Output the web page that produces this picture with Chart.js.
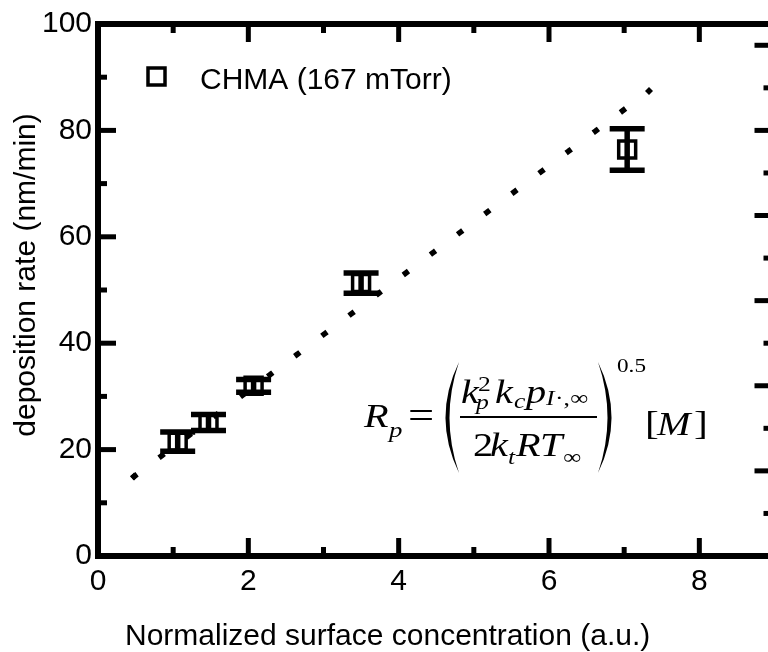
<!DOCTYPE html>
<html>
<head>
<meta charset="utf-8">
<script src="https://cdn.jsdelivr.net/npm/chart.js@4.4.0/dist/chart.umd.min.js"></script>
<style>
  html, body { margin: 0; padding: 0; background: #fff; overflow: hidden; }
  #wrap { width: 768px; height: 652px; overflow: hidden; position: relative; }
  canvas { position: absolute; left: 0; top: 0; }
</style>
</head>
<body>
<div id="wrap"><canvas id="chart" width="790" height="652"></canvas></div>
<script>
// ===== data =====
const seriesLabel = 'CHMA (167 mTorr)';
const concX = [1.06, 1.47, 2.07, 3.50, 7.04];     // normalized surface concentration
const rateY = [21.5, 25.1, 32.0, 51.3, 76.4];     // deposition rate (nm/min)
const rateErr = [1.8, 1.5, 1.2, 1.9, 3.9];

// model line (dotted)
const fitX = [0.48, 7.33];
const fitY = [14.95, 87.4];

// axes
const xTicks = [0, 2, 4, 6, 8];
const xMinor = [1, 3, 5, 7, 9];
const yTicks = [0, 20, 40, 60, 80, 100];
const yMinor = [10, 30, 50, 70, 90];
const rightTicks = [0, 4, 8, 12, 16, 20, 24];
const rightMinor = [2, 6, 10, 14, 18, 22];

const SANS = '"Liberation Sans", Arial, sans-serif';
const SERIF = '"Liberation Serif", "Times New Roman", serif';

Chart.defaults.font.family = SANS;
Chart.defaults.color = '#000';

// ----- helpers -----
function line(ctx, x1, y1, x2, y2) {
    ctx.beginPath();
    ctx.moveTo(x1, y1);
    ctx.lineTo(x2, y2);
    ctx.stroke();
}

// stretched text for the formula
function mathText(ctx, str, x, y, size, italic) {
    ctx.save();
    ctx.translate(x, y);
    ctx.scale(1.22, 1);
    ctx.font = (italic ? 'italic ' : '') + size + 'px ' + SERIF;
    ctx.fillText(str, 0, 0);
    ctx.restore();
}

function paren(ctx, xEnd, xOuter, xInner, yTop, yBot) {
    const mid = (yTop + yBot) / 2;
    ctx.beginPath();
    ctx.moveTo(xEnd, yTop);
    ctx.quadraticCurveTo(xOuter, mid, xEnd, yBot);
    ctx.quadraticCurveTo(xInner, mid, xEnd, yTop);
    ctx.fill();
}

function drawFormula(ctx) {
    ctx.save();
    ctx.fillStyle = '#000';
    ctx.strokeStyle = '#000';
    ctx.textBaseline = 'alphabetic';
    ctx.textAlign = 'left';

    mathText(ctx, 'R', 364, 427, 33, true);
    mathText(ctx, 'p', 389, 437, 22, true);
    mathText(ctx, '=', 408, 428, 38, false);

    paren(ctx, 459, 432, 440, 362, 473);
    paren(ctx, 598, 625, 617, 362, 473);

    // numerator
    mathText(ctx, 'k', 461, 403, 33, true);
    mathText(ctx, '2', 478, 391, 21, false);
    mathText(ctx, 'p', 476, 409, 21, true);
    mathText(ctx, 'k', 495, 403, 33, true);
    mathText(ctx, 'c', 514, 408, 21, true);
    mathText(ctx, 'p', 526, 403, 33, true);
    mathText(ctx, 'I', 546, 405, 21, true);
    mathText(ctx, '\u00b7,\u221e', 555, 405, 21, false);

    // fraction bar
    ctx.lineWidth = 2;
    line(ctx, 460, 417, 597, 417);

    // denominator
    mathText(ctx, '2', 473, 456, 33, false);
    mathText(ctx, 'k', 490, 456, 33, true);
    mathText(ctx, 't', 508, 464, 21, true);
    mathText(ctx, 'R', 516, 456, 33, true);
    mathText(ctx, 'T', 540, 456, 33, true);
    mathText(ctx, '\u221e', 563, 464, 21, false);

    mathText(ctx, '0.5', 617, 372, 19, false);

    mathText(ctx, '[', 645, 434, 34, false);
    mathText(ctx, 'M', 657, 435, 33, true);
    mathText(ctx, ']', 694, 434, 34, false);
    ctx.restore();
}

// ----- plugin: error bars, frame with inward ticks, legend, titles, formula -----
const framePlugin = {
    id: 'frame',
    afterDatasetsDraw(chart) {
        const { ctx, scales: { x, y } } = chart;
        ctx.save();
        ctx.strokeStyle = '#000';
        ctx.lineWidth = 5.5;
        concX.forEach((cx, i) => {
            const px = x.getPixelForValue(cx);
            const top = y.getPixelForValue(rateY[i] + rateErr[i]);
            const bot = y.getPixelForValue(rateY[i] - rateErr[i]);
            line(ctx, px, top, px, bot);
            line(ctx, px - 17.5, top, px + 17.5, top);
            line(ctx, px - 17.5, bot, px + 17.5, bot);
        });
        ctx.restore();
    },
    afterDraw(chart) {
        const { ctx, chartArea: a, scales: { x, y, y2 } } = chart;
        ctx.save();
        ctx.strokeStyle = '#000';
        ctx.fillStyle = '#000';

        // ticks
        ctx.lineWidth = 5;
        const MAJ = 18, MIN = 9;
        xTicks.forEach(v => {
            const p = x.getPixelForValue(v);
            line(ctx, p, a.bottom, p, a.bottom - MAJ);
            line(ctx, p, a.top, p, a.top + MAJ);
        });
        xMinor.forEach(v => {
            const p = x.getPixelForValue(v);
            line(ctx, p, a.bottom, p, a.bottom - MIN);
            line(ctx, p, a.top, p, a.top + MIN);
        });
        yTicks.forEach(v => {
            const p = y.getPixelForValue(v);
            line(ctx, a.left, p, a.left + MAJ, p);
        });
        yMinor.forEach(v => {
            const p = y.getPixelForValue(v);
            line(ctx, a.left, p, a.left + MIN, p);
        });
        rightTicks.forEach(v => {
            const p = y2.getPixelForValue(v);
            line(ctx, a.right, p, a.right - MAJ - 2, p);
        });
        rightMinor.forEach(v => {
            const p = y2.getPixelForValue(v);
            line(ctx, a.right, p, a.right - MIN - 2, p);
        });

        // frame
        ctx.lineWidth = 6;
        ctx.strokeRect(a.left, a.top, a.right - a.left, a.bottom - a.top);

        // legend
        ctx.lineWidth = 3.5;
        ctx.strokeRect(148, 68, 17, 17);
        ctx.font = '30px ' + SANS;
        ctx.textAlign = 'left';
        ctx.textBaseline = 'alphabetic';
        ctx.fillText(seriesLabel, 200, 89);

        // axis titles
        ctx.fillText('Normalized surface concentration (a.u.)', 125, 645);
        ctx.save();
        ctx.translate(35, 275);
        ctx.rotate(-Math.PI / 2);
        ctx.textAlign = 'center';
        ctx.fillText('deposition rate (nm/min)', 0, 0);
        ctx.restore();

        ctx.restore();
        drawFormula(ctx);
    }
};

new Chart(document.getElementById('chart'), {
    type: 'scatter',
    data: {
        datasets: [{
            label: seriesLabel,
            data: concX.map((v, i) => ({ x: v, y: rateY[i] })),
            pointStyle: 'rect',
            pointRadius: 12,
            pointBorderWidth: 3.5,
            pointBorderColor: '#000',
            pointBackgroundColor: 'rgba(0,0,0,0)',
            order: 1
        }, {
            label: 'model',
            data: fitX.map((v, i) => ({ x: v, y: fitY[i] })),
            showLine: true,
            borderColor: '#000',
            borderWidth: 5.5,
            borderDash: [1, 32.9],
            borderCapStyle: 'square',
            pointStyle: 'rectRot',
            pointRadius: 4,
            pointBorderWidth: 0,
            pointBackgroundColor: '#000',
            order: 2
        }]
    },
    options: {
        responsive: false,
        animation: false,
        devicePixelRatio: 1,
        layout: { padding: { top: 23, left: 0, right: 0, bottom: 0 } },
        plugins: {
            legend: { display: false },
            tooltip: { enabled: false }
        },
        scales: {
            x: {
                type: 'linear',
                min: 0,
                max: 9,
                border: { display: false },
                grid: { display: false, drawTicks: false },
                afterBuildTicks: (s) => { s.ticks = xTicks.map(v => ({ value: v })); },
                afterFit: (s) => { s.height = 96; },
                ticks: { font: { size: 30 }, padding: 8, maxRotation: 0 }
            },
            y: {
                type: 'linear',
                min: 0,
                max: 100,
                border: { display: false },
                grid: { display: false, drawTicks: false },
                afterBuildTicks: (s) => { s.ticks = yTicks.map(v => ({ value: v })); },
                afterFit: (s) => { s.width = 98; },
                ticks: { font: { size: 30 }, padding: 6 }
            },
            y2: {
                type: 'linear',
                position: 'right',
                min: 0,
                max: 25,
                border: { display: false },
                grid: { display: false, drawTicks: false },
                ticks: { display: false },
                afterFit: (s) => { s.width = 0; }
            }
        }
    },
    plugins: [framePlugin]
});
</script>
</body>
</html>
